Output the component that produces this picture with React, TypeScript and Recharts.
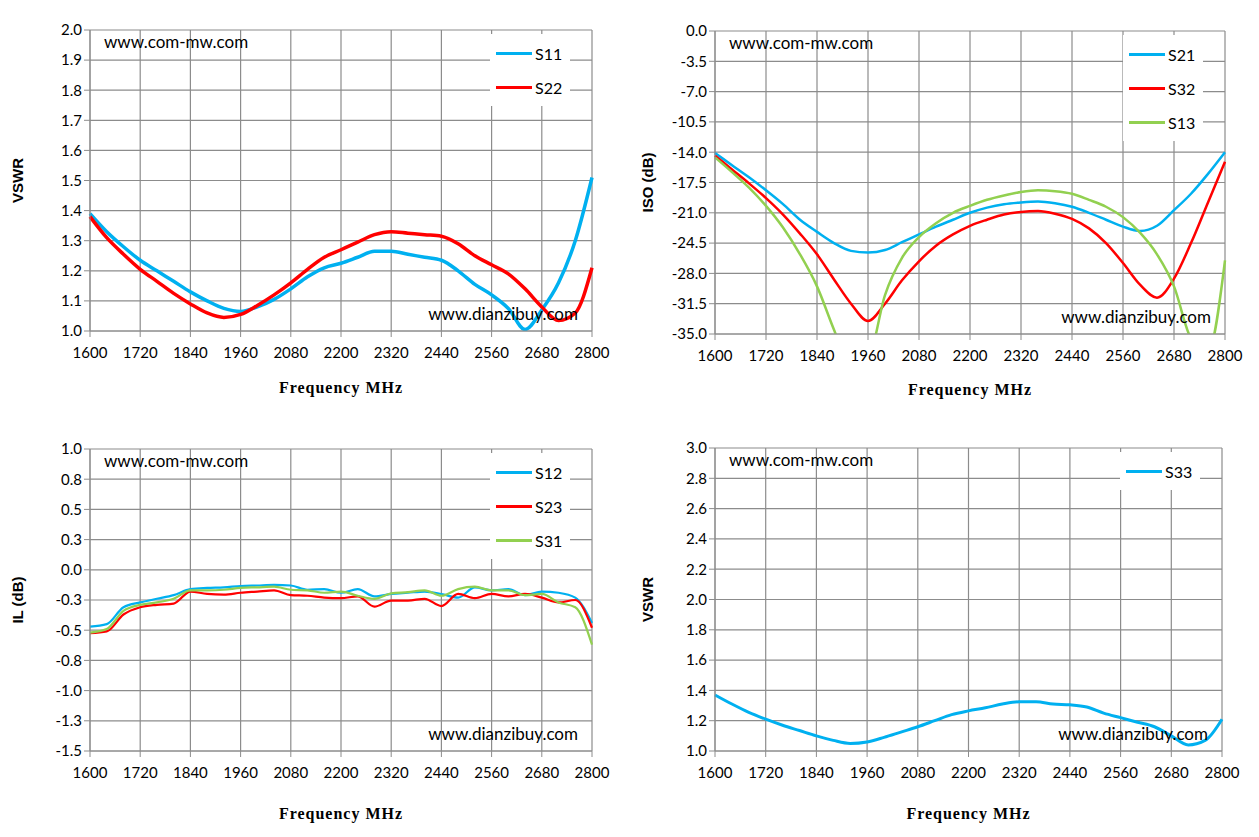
import React from "react"
import { LineChart, Line, XAxis, YAxis, CartesianGrid } from "recharts"

const FREQ = [
  1600, 1640, 1680, 1720, 1760, 1800, 1840, 1880, 1920, 1960, 2000, 2040, 2080, 2120, 2160, 2200,
  2240, 2280, 2320, 2360, 2400, 2440, 2480, 2520, 2560, 2600, 2640, 2680, 2720, 2760, 2800,
]
const X_TICKS = [1600, 1720, 1840, 1960, 2080, 2200, 2320, 2440, 2560, 2680, 2800]

// VSWR S11 / S22
const S11 = [1.39, 1.33, 1.28, 1.235, 1.2, 1.165, 1.13, 1.1, 1.075, 1.065, 1.08, 1.105, 1.14, 1.18, 1.21, 1.225, 1.245, 1.265, 1.265, 1.255, 1.245, 1.235, 1.2, 1.155, 1.12, 1.075, 1.005, 1.07, 1.16, 1.3, 1.51]
const S22 = [1.38, 1.31, 1.255, 1.205, 1.165, 1.125, 1.09, 1.06, 1.045, 1.055, 1.085, 1.12, 1.16, 1.205, 1.245, 1.27, 1.295, 1.32, 1.33, 1.325, 1.32, 1.315, 1.29, 1.25, 1.22, 1.19, 1.14, 1.08, 1.035, 1.06, 1.21]

// isolation
const S21 = [-14.1, -15.5, -16.9, -18.4, -20, -21.8, -23.2, -24.5, -25.4, -25.6, -25.3, -24.4, -23.5, -22.6, -21.8, -21.0, -20.4, -20.0, -19.8, -19.7, -19.9, -20.3, -21.0, -21.8, -22.6, -23.1, -22.5, -20.7, -18.8, -16.5, -14.0]
const S32 = [-14.4, -16, -17.6, -19.3, -21.2, -23.4, -25.8, -28.7, -31.5, -33.5, -31.5, -28.8, -26.6, -24.8, -23.5, -22.5, -21.8, -21.2, -20.9, -20.8, -21.1, -21.7, -22.8, -24.5, -26.8, -29.3, -30.8, -28.6, -24.5, -19.8, -15.1]
const S13 = [-14.6, -16.3, -18.1, -20.2, -22.7, -25.8, -29.5, -34.5, -39, -38, -30.5, -26.2, -23.8, -22.2, -21.0, -20.2, -19.5, -19.0, -18.6, -18.4, -18.5, -18.8, -19.5, -20.3, -21.5, -23.3, -25.8, -29.5, -35.5, -37, -26.5]

// insertion loss
const S12 = [-0.47, -0.45, -0.31, -0.27, -0.24, -0.21, -0.16, -0.15, -0.145, -0.135, -0.13, -0.125, -0.13, -0.165, -0.16, -0.19, -0.16, -0.22, -0.2, -0.19, -0.18, -0.2, -0.23, -0.145, -0.17, -0.16, -0.21, -0.18, -0.19, -0.23, -0.44]
const S23 = [-0.525, -0.51, -0.37, -0.31, -0.29, -0.28, -0.18, -0.2, -0.205, -0.19, -0.18, -0.17, -0.21, -0.215, -0.23, -0.235, -0.22, -0.305, -0.255, -0.255, -0.24, -0.3, -0.2, -0.235, -0.2, -0.22, -0.2, -0.23, -0.27, -0.25, -0.48]
const S31 = [-0.52, -0.49, -0.34, -0.29, -0.27, -0.24, -0.17, -0.17, -0.165, -0.15, -0.145, -0.14, -0.165, -0.17, -0.19, -0.18, -0.215, -0.24, -0.195, -0.185, -0.17, -0.215, -0.16, -0.14, -0.17, -0.17, -0.21, -0.2, -0.27, -0.31, -0.62]

// VSWR S33
const S33 = [1.37, 1.31, 1.255, 1.21, 1.17, 1.135, 1.1, 1.07, 1.05, 1.06, 1.09, 1.125, 1.16, 1.2, 1.24, 1.265, 1.285, 1.31, 1.325, 1.325, 1.31, 1.305, 1.29, 1.25, 1.22, 1.19, 1.16, 1.1, 1.04, 1.07, 1.21]

const VSWR_TICKS = [1.0, 1.1, 1.2, 1.3, 1.4, 1.5, 1.6, 1.7, 1.8, 1.9, 2.0]
const ISO_TICKS = [0, -3.5, -7, -10.5, -14, -17.5, -21, -24.5, -28, -31.5, -35]
const IL_TICKS = [-1.5, -1.25, -1.0, -0.75, -0.5, -0.25, 0, 0.25, 0.5, 0.75, 1.0]
const VSWR3_TICKS = [1.0, 1.2, 1.4, 1.6, 1.8, 2.0, 2.2, 2.4, 2.6, 2.8, 3.0]

const BLUE = "#00b0f0"
const RED = "#ff0000"
const GREEN = "#92d050"

const tickFont = { fontFamily: "Lato", fontSize: 15, fill: "#000" }

function table(series: Record<string, number[]>) {
  return FREQ.map((f, i) => {
    const row: Record<string, number> = { f }
    for (const k in series) row[k] = series[k][i]
    return row
  })
}

type Panel = {
  left: number
  top: number
  width: number
  height: number
  margin: { top: number; right: number; left: number; bottom: number }
  yWidth: number
  xHeight: number
  xLabelOffset: number
  domain: [number, number]
  ticks: number[]
  fmt: (v: number) => string
  yLabel: string
  series: { key: string; values: number[]; color: string }[]
  stroke: number
  legendWidth: number
}

function Chart(p: Panel) {
  const data = table(Object.fromEntries(p.series.map((s) => [s.key, s.values])))
  return (
    <div style={{ position: "absolute", left: p.left, top: p.top }}>
      <LineChart width={p.width} height={p.height} data={data} margin={p.margin}>
        <CartesianGrid stroke="#8c8c8c" strokeWidth={1.2} />
        <XAxis
          dataKey="f"
          type="number"
          domain={[1600, 2800]}
          ticks={X_TICKS}
          height={p.xHeight}
          tick={tickFont}
          tickMargin={10}
          stroke="#8c8c8c"
          label={{ value: "Frequency MHz", position: "insideBottom", offset: p.xLabelOffset, style: { fontFamily: "Liberation Serif", fontWeight: "bold", fontSize: 16, letterSpacing: 1, fill: "#000" } }}
        />
        <YAxis
          type="number"
          domain={p.domain}
          ticks={p.ticks}
          allowDataOverflow
          width={p.yWidth}
          tick={tickFont}
          tickFormatter={p.fmt}
          interval={0}
          stroke="#8c8c8c"
          label={{ value: p.yLabel, angle: -90, position: "insideLeft", offset: 18, style: { fontFamily: "Liberation Sans", fontWeight: "bold", fontSize: 15, fill: "#000", textAnchor: "middle" } }}
        />
        {p.series.map((s) => (
          <Line
            key={s.key}
            type="monotone"
            dataKey={s.key}
            stroke={s.color}
            strokeWidth={p.stroke}
            dot={false}
            isAnimationActive={false}
          />
        ))}
      </LineChart>
      <div style={{ position: "absolute", right: p.margin.right + 22, top: p.margin.top + 4, width: p.legendWidth, background: "#fff", padding: "2px 0" }}>
        {p.series.map((s) => (
          <div key={s.key} style={{ display: "flex", alignItems: "center", height: 34, fontFamily: "Lato", fontSize: 16 }}>
            <div style={{ width: 36, height: 3, background: s.color, marginLeft: 6, marginRight: 3 }} />
            <span>{s.key}</span>
          </div>
        ))}
      </div>
      <div style={{ position: "absolute", left: p.margin.left + p.yWidth + 14, top: p.margin.top + 1, fontFamily: "Lato", fontSize: 17 }}>
        www.com-mw.com
      </div>
      <div style={{ position: "absolute", right: p.margin.right + 14, top: p.height - p.xHeight - 28, fontFamily: "Lato", fontSize: 17 }}>
        www.dianzibuy.com
      </div>
    </div>
  )
}

export default function App() {
  return (
    <div style={{ position: "absolute", left: 0, top: 0, width: 1259, height: 837, background: "#fff" }}>
      <Chart
        left={0}
        top={0}
        width={620}
        height={410}
        margin={{ top: 30, right: 28, left: 0, bottom: 0 }}
        yWidth={90}
        xHeight={79}
        xLabelOffset={17}
        domain={[1.0, 2.0]}
        ticks={VSWR_TICKS}
        fmt={(v) => v.toFixed(1)}
        yLabel="VSWR"
        series={[
          { key: "S11", values: S11, color: BLUE },
          { key: "S22", values: S22, color: RED },
        ]}
        stroke={3.5}
        legendWidth={80}
      />
      <Chart
        left={630}
        top={0}
        width={629}
        height={410}
        margin={{ top: 31, right: 34, left: 0, bottom: 0 }}
        yWidth={85}
        xHeight={76}
        xLabelOffset={15}
        domain={[-35, 0]}
        ticks={ISO_TICKS}
        fmt={(v) => v.toFixed(1)}
        yLabel="ISO (dB)"
        series={[
          { key: "S21", values: S21, color: BLUE },
          { key: "S32", values: S32, color: RED },
          { key: "S13", values: S13, color: GREEN },
        ]}
        stroke={2.5}
        legendWidth={80}
      />
      <Chart
        left={0}
        top={420}
        width={620}
        height={417}
        margin={{ top: 29, right: 28, left: 0, bottom: 0 }}
        yWidth={90}
        xHeight={86}
        xLabelOffset={18}
        domain={[-1.5, 1.0]}
        ticks={IL_TICKS}
        fmt={(v) => v.toFixed(1)}
        yLabel="IL (dB)"
        series={[
          { key: "S12", values: S12, color: BLUE },
          { key: "S23", values: S23, color: RED },
          { key: "S31", values: S31, color: GREEN },
        ]}
        stroke={2.2}
        legendWidth={80}
      />
      <Chart
        left={630}
        top={420}
        width={629}
        height={417}
        margin={{ top: 28, right: 37, left: 0, bottom: 0 }}
        yWidth={85}
        xHeight={86}
        xLabelOffset={18}
        domain={[1.0, 3.0]}
        ticks={VSWR3_TICKS}
        fmt={(v) => v.toFixed(1)}
        yLabel="VSWR"
        series={[{ key: "S33", values: S33, color: BLUE }]}
        stroke={3}
        legendWidth={80}
      />
    </div>
  )
}
